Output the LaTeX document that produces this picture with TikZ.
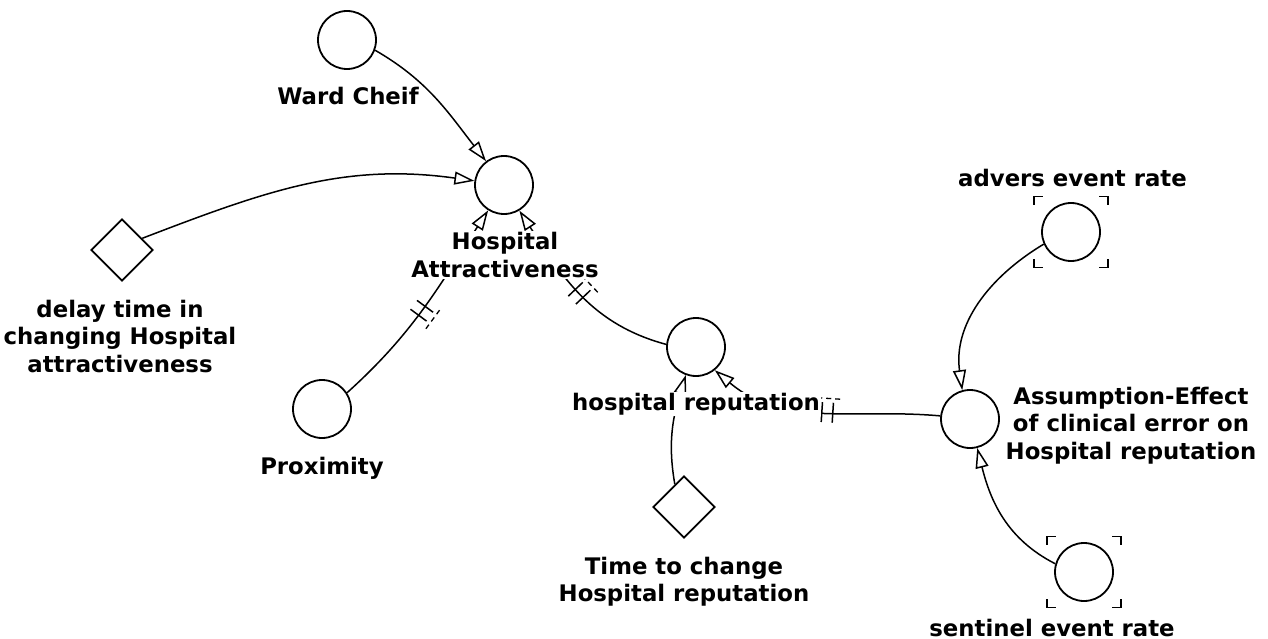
\documentclass[tikz,border=0pt]{standalone}
\usepackage{fontspec}
\setmainfont{DejaVu Sans}
\usetikzlibrary{arrows.meta, shapes.geometric, decorations.markings, calc}

% corner brackets around a variable with a fixed data series
\newcommand\ventcorners[1]{%
  \foreach \sx/\sy in {-1/-1, 1/-1, -1/1, 1/1}{%
    \draw[corner] ($(#1)+(\sx*37,\sy*27.5)$) -- ($(#1)+(\sx*37,\sy*35.5)$) -- ($(#1)+(\sx*29,\sy*35.5)$);
  }}

\begin{document}
\begin{tikzpicture}[x=1pt, y=-1pt,
  aux/.style={circle, draw, line width=1.8pt, minimum size=58pt, inner sep=0pt},
  const/.style={diamond, draw, line width=1.8pt, minimum width=62pt, minimum height=62pt, inner sep=0pt},
  lbl/.style={fill=white, inner sep=1pt, align=center, font=\bfseries\fontsize{22.8}{27.5}\selectfont},
  link/.style={line width=1.5pt, -{Triangle[open, length=20pt, width=13pt, line width=1.5pt]}},
  corner/.style={line width=1.8pt, line cap=rect},
  delaymark/.style={postaction={decorate, decoration={markings, mark=at position #1 with {
      \draw[arrows=-, line width=1.5pt] (-5.5pt,-10pt) -- (-5.5pt,10pt);
      \draw[arrows=-, line width=1.5pt] (5.5pt,-10pt) -- (5.5pt,10pt);
      \draw[arrows=-, line width=1.3pt, dash pattern=on 5pt off 4pt] (-12pt,-14pt) -- (12pt,-14pt);
  }}}}
]
\useasboundingbox (0,0) rectangle (1268,639);

% variables
\node[aux]   (ward)  at (347,40)   {};
\node[aux]   (attr)  at (504,185)  {};
\node[const] (delay) at (122,250)  {};
\node[aux]   (prox)  at (322,409)  {};
\node[aux]   (rep)   at (696,347)  {};
\node[const] (tchg)  at (684,507)  {};
\node[aux]   (assum) at (970,419)  {};
\node[aux]   (adv)   at (1071,232) {};
\node[aux]   (sent)  at (1084,572) {};

\ventcorners{adv}
\ventcorners{sent}

% causal links
\draw[link] (ward.-20) to[out=-30, in=128] (attr.127);
\draw[link] (delay.30) to[out=21, in=172] (attr.172);
\draw[link, delaymark=0.48] (prox.33) to[out=42, in=-123] (attr.-122);
\draw[link, delaymark=0.5] (rep.175) to[out=165, in=-57] (attr.-59);
\draw[link] (tchg.112) to[out=100, in=-107] (rep.-110);
\draw[link, delaymark=0.48] (assum.174) to[out=175, in=-40] (rep.-51);
\draw[link] (adv.204) to[out=211, in=98] (assum.105);
\draw[link] (sent.164) to[out=153, in=-76] (assum.-76);

% variable names
\node[lbl] (wardL)  at (348,96.3)    {Ward Cheif};
\node[lbl] (attrL)  at (505,255)     {Hospital\\Attractiveness};
\node[lbl] (delayL) at (120,336)     {delay time in\\changing Hospital\\attractiveness};
\node[lbl] (proxL)  at (322,468)     {Proximity};
\node[lbl] (repL)   at (696,404.4)   {hospital reputation};
\node[lbl] (tchgL)  at (684,581.5)   {Time to change\\Hospital reputation};
\node[lbl] (assumL) at (1131,425.5)  {Assumption-Effect\\of clinical error on\\Hospital reputation};
\node[lbl] (advL)   at (1072.5,178.4){advers event rate};
\node[lbl] (sentL)  at (1052,627.5)  {sentinel event rate};
\end{tikzpicture}
\end{document}
